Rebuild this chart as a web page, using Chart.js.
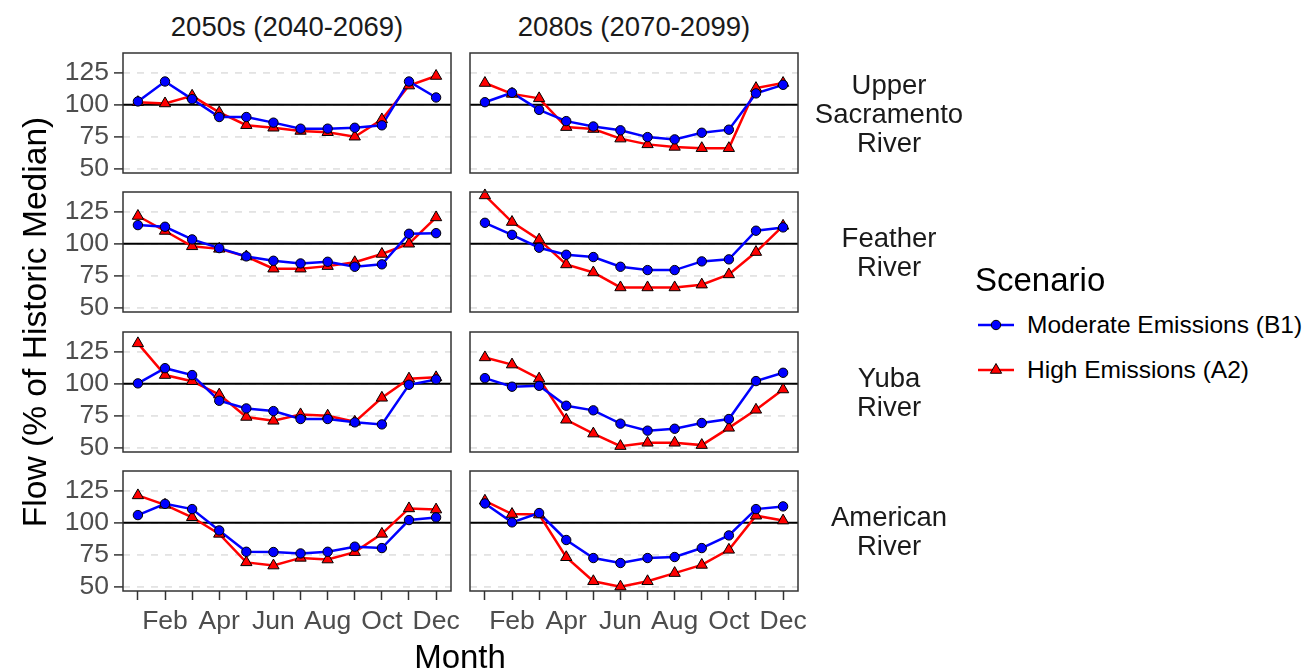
<!DOCTYPE html>
<html>
<head>
<meta charset="utf-8">
<script src="https://cdn.jsdelivr.net/npm/chart.js@4.4.1/dist/chart.umd.min.js"></script>
<style>
  html, body { margin: 0; padding: 0; background: #ffffff; }
  body { width: 1307px; height: 672px; position: relative; overflow: hidden;
         font-family: 'Liberation Sans', Arial, sans-serif; }
  canvas { position: absolute; }
  .txt { position: absolute; white-space: nowrap; }
  .strip { color: #1A1A1A; font-size: 27.5px; text-align: center; }
  .rowstrip { white-space: pre-line; line-height: 29px; }
</style>
</head>
<body>
<script>
// Categories and labels
const months = ['Jan', 'Feb', 'Mar', 'Apr', 'May', 'Jun', 'Jul', 'Aug', 'Sep', 'Oct', 'Nov', 'Dec'];
const periods = ['2050s (2040-2069)', '2080s (2070-2099)'];
const rivers = ['Upper\nSacramento\nRiver', 'Feather\nRiver', 'Yuba\nRiver', 'American\nRiver'];
const scenarios = ['Moderate Emissions (B1)', 'High Emissions (A2)'];
const yTicks = [50, 75, 100, 125];
const historicMedian = 100;

// Monthly flow, % of historic median (Jan..Dec)
const upperSac2050sB1 = [102.6, 118.2, 104.4, 90.4, 90.4, 86.0, 81.3, 81.3, 82.0, 83.9, 118.2, 105.7];
const upperSac2050sA2 = [102.0, 101.0, 107.0, 94.0, 84.0, 82.0, 79.5, 78.5, 75.0, 88.5, 115.0, 122.5];
const upperSac2080sB1 = [102.0, 109.4, 96.0, 87.2, 83.0, 80.0, 74.7, 72.9, 78.1, 80.5, 108.9, 115.6];
const upperSac2080sA2 = [117.0, 108.5, 105.0, 82.5, 81.0, 73.5, 69.0, 67.0, 66.0, 66.0, 113.0, 117.0];

const feather2050sB1 = [114.6, 113.3, 103.4, 96.6, 90.1, 86.7, 84.6, 85.9, 82.0, 83.9, 107.8, 108.3];
const feather2050sA2 = [121.7, 110.0, 98.0, 96.0, 90.0, 80.5, 80.5, 82.5, 85.5, 92.0, 100.0, 120.6];
const feather2080sB1 = [116.4, 107.0, 96.9, 91.4, 89.6, 82.0, 79.4, 79.4, 86.2, 87.8, 110.2, 112.8];
const feather2080sA2 = [137.8, 117.0, 103.2, 83.8, 77.5, 65.8, 65.8, 65.8, 68.0, 76.0, 93.5, 114.0];

const yuba2050sB1 = [100.3, 112.2, 106.8, 86.7, 80.7, 78.6, 72.4, 72.4, 69.8, 68.2, 99.2, 103.4];
const yuba2050sA2 = [131.6, 106.8, 102.0, 91.5, 74.0, 71.0, 76.0, 75.0, 70.2, 89.0, 104.0, 105.0];
const yuba2080sB1 = [104.4, 97.7, 98.4, 82.8, 79.2, 68.8, 63.3, 64.8, 69.3, 72.4, 102.1, 108.6];
const yuba2080sA2 = [120.6, 115.0, 104.0, 71.8, 61.0, 51.2, 53.8, 53.8, 52.0, 65.5, 79.6, 95.5];

const american2050sB1 = [106.0, 114.8, 110.7, 94.0, 77.3, 77.1, 76.0, 77.3, 81.3, 80.2, 102.1, 104.2];
const american2050sA2 = [121.4, 114.0, 104.3, 91.3, 69.0, 66.5, 72.5, 71.2, 77.0, 91.3, 111.2, 110.3];
const american2080sB1 = [115.1, 100.3, 107.6, 86.5, 72.4, 68.5, 72.4, 73.2, 80.2, 90.1, 110.7, 112.8];
const american2080sA2 = [117.2, 106.8, 106.4, 73.0, 54.2, 50.0, 54.2, 60.6, 67.0, 78.8, 105.5, 101.7];

// Panel grid: rows = rivers, columns = periods; each cell [B1, A2]
const panels = [
  [[upperSac2050sB1, upperSac2050sA2], [upperSac2080sB1, upperSac2080sA2]],
  [[feather2050sB1, feather2050sA2], [feather2080sB1, feather2080sA2]],
  [[yuba2050sB1, yuba2050sA2], [yuba2080sB1, yuba2080sA2]],
  [[american2050sB1, american2050sA2], [american2080sB1, american2080sA2]]
];

// Geometry of the facet grid
const PANEL_LEFT = [123, 470];
const PANEL_TOP = [53, 192, 332, 471];
const PANEL_W = 328;
const PANEL_H = 120;
const X_MIN = 0.45, X_MAX = 12.55;
const Y_MIN = 46.6, Y_MAX = 140.5;
const PAD = 8;

const BLUE = '#0000FF';
const RED = '#FF0000';
const FONT = "'Liberation Sans', Arial, sans-serif";

Chart.defaults.font.family = FONT;

const toPoints = (vals) => vals.map((v, i) => ({ x: i + 1, y: v }));

// Panel frame drawn over the plotting area
const panelFrame = {
  id: 'panelFrame',
  afterDraw(chart) {
    const a = chart.chartArea;
    const ctx = chart.ctx;
    ctx.save();
    ctx.strokeStyle = '#333333';
    ctx.lineWidth = 1.5;
    ctx.strokeRect(a.left, a.top, a.right - a.left, a.bottom - a.top);
    ctx.restore();
  }
};

function addText(text, cls, style) {
  const d = document.createElement('div');
  d.className = 'txt ' + cls;
  d.textContent = text;
  Object.assign(d.style, style);
  document.body.appendChild(d);
  return d;
}

panels.forEach((row, r) => {
  row.forEach((cell, c) => {
    const [b1, a2] = cell;
    const leftExtra = c === 0 ? 72 : PAD;
    const isBottom = r === panels.length - 1;
    const bottomExtra = isBottom ? 52 : PAD;

    const w = leftExtra + PANEL_W + PAD;
    const h = PAD + PANEL_H + bottomExtra;
    const canvas = document.createElement('canvas');
    canvas.width = w;
    canvas.height = h;
    canvas.style.width = w + 'px';
    canvas.style.height = h + 'px';
    canvas.style.left = (PANEL_LEFT[c] - leftExtra) + 'px';
    canvas.style.top = (PANEL_TOP[r] - PAD) + 'px';
    document.body.appendChild(canvas);

    new Chart(canvas.getContext('2d'), {
      type: 'line',
      data: {
        datasets: [
          { data: [{ x: X_MIN, y: historicMedian }, { x: X_MAX, y: historicMedian }],
            borderColor: '#000000', borderWidth: 2.2, pointRadius: 0, order: 4, clip: false },
          { data: toPoints(a2), borderColor: RED, borderWidth: 2.5, pointRadius: 0, order: 3, clip: false },
          { data: toPoints(b1), borderColor: BLUE, borderWidth: 2.5, pointRadius: 0, order: 2, clip: false },
          { data: toPoints(a2), showLine: false, pointStyle: 'triangle', pointRadius: 6.5,
            pointBackgroundColor: RED, pointBorderColor: '#000000', pointBorderWidth: 1, order: 1, clip: false },
          { data: toPoints(b1), showLine: false, pointStyle: 'circle', pointRadius: 4.7,
            pointBackgroundColor: BLUE, pointBorderColor: '#000000', pointBorderWidth: 1, order: 0, clip: false }
        ]
      },
      options: {
        responsive: false,
        maintainAspectRatio: false,
        animation: false,
        devicePixelRatio: 1,
        events: [],
        layout: { autoPadding: false,
                  padding: { top: PAD, right: PAD, left: 0, bottom: isBottom ? 0 : PAD } },
        plugins: { legend: { display: false }, tooltip: { enabled: false } },
        scales: {
          x: {
            type: 'linear', min: X_MIN, max: X_MAX,
            display: isBottom,
            afterBuildTicks: (s) => { s.ticks = months.map((m, i) => ({ value: i + 1 })); },
            afterFit: (s) => {
              s.height = isBottom ? bottomExtra : 0;
              s.paddingLeft = 0; s.paddingRight = 0; s.paddingTop = 0; s.paddingBottom = 0;
            },
            ticks: {
              autoSkip: false, maxRotation: 0, minRotation: 0,
              callback: (v) => { const i = Math.round(v); return i % 2 === 0 ? months[i - 1] : ''; },
              font: { size: 26.5, family: FONT }, color: '#4D4D4D', padding: 6
            },
            grid: { drawOnChartArea: false, drawTicks: true, tickLength: 9, tickColor: '#333333', tickWidth: 1.5 },
            border: { display: false }
          },
          y: {
            type: 'linear', min: Y_MIN, max: Y_MAX,
            afterBuildTicks: (s) => { s.ticks = yTicks.map((v) => ({ value: v })); },
            afterFit: (s) => {
              s.width = leftExtra;
              s.paddingLeft = 0; s.paddingRight = 0; s.paddingTop = 0; s.paddingBottom = 0;
            },
            ticks: { display: c === 0, autoSkip: false, font: { size: 26.5, family: FONT },
                     color: '#4D4D4D', padding: 5 },
            grid: { color: '#E3E3E3', lineWidth: 1.8, drawTicks: c === 0, tickLength: 9,
                    tickColor: '#333333', tickWidth: 1.5 },
            border: { display: false, dash: [7, 7] }
          }
        }
      },
      plugins: [panelFrame]
    });
  });
});

// Column strips
periods.forEach((p, c) => {
  addText(p, 'strip', { left: PANEL_LEFT[c] + 'px', width: PANEL_W + 'px', top: '10px',
                        height: '34px', lineHeight: '34px' });
});

// Row strips
rivers.forEach((name, r) => {
  const lines = name.split('\n').length;
  const centre = PANEL_TOP[r] + PANEL_H / 2;
  addText(name, 'strip rowstrip', { left: '800px', width: '178px',
                                    top: (centre - lines * 29 / 2) + 'px' });
});

// Axis titles
addText('Month', '', { left: '260px', width: '400px', top: '637px', height: '40px', lineHeight: '40px',
                       textAlign: 'center', fontSize: '33px', color: '#000000' });
addText('Flow (% of Historic Median)', '', {
  left: (35 - 300) + 'px', width: '600px', top: (322 - 20) + 'px', height: '40px', lineHeight: '40px',
  textAlign: 'center', fontSize: '33.6px', color: '#000000', transform: 'rotate(-90deg)'
});

// Legend
addText('Scenario', '', { left: '975px', top: '260px', height: '40px', lineHeight: '40px',
                          fontSize: '33px', color: '#000000' });
const keyY = [325, 370];
const ns = 'http://www.w3.org/2000/svg';
const keySvg = document.createElementNS(ns, 'svg');
keySvg.setAttribute('width', '50');
keySvg.setAttribute('height', '120');
keySvg.style.position = 'absolute';
keySvg.style.left = '970px';
keySvg.style.top = '290px';
[BLUE, RED].forEach((col, k) => {
  const cy = keyY[k] - 290;
  const ln = document.createElementNS(ns, 'line');
  ln.setAttribute('x1', '8'); ln.setAttribute('x2', '44');
  ln.setAttribute('y1', cy); ln.setAttribute('y2', cy);
  ln.setAttribute('stroke', col); ln.setAttribute('stroke-width', '2.5');
  keySvg.appendChild(ln);
  if (k === 0) {
    const ci = document.createElementNS(ns, 'circle');
    ci.setAttribute('cx', '26'); ci.setAttribute('cy', cy); ci.setAttribute('r', '4.7');
    ci.setAttribute('fill', col); ci.setAttribute('stroke', '#000'); ci.setAttribute('stroke-width', '1');
    keySvg.appendChild(ci);
  } else {
    const rr = 6.5, cx = 26;
    const pts = [[cx, cy - rr], [cx + 0.866 * rr, cy + rr / 2], [cx - 0.866 * rr, cy + rr / 2]];
    const tri = document.createElementNS(ns, 'polygon');
    tri.setAttribute('points', pts.map((p) => p.join(',')).join(' '));
    tri.setAttribute('fill', col); tri.setAttribute('stroke', '#000'); tri.setAttribute('stroke-width', '1');
    keySvg.appendChild(tri);
  }
  addText(scenarios[k], '', { left: '1027px', top: (keyY[k] - 17) + 'px', height: '34px', lineHeight: '34px',
                              fontSize: '24.5px', color: '#000000' });
});
document.body.appendChild(keySvg);
</script>
</body>
</html>
